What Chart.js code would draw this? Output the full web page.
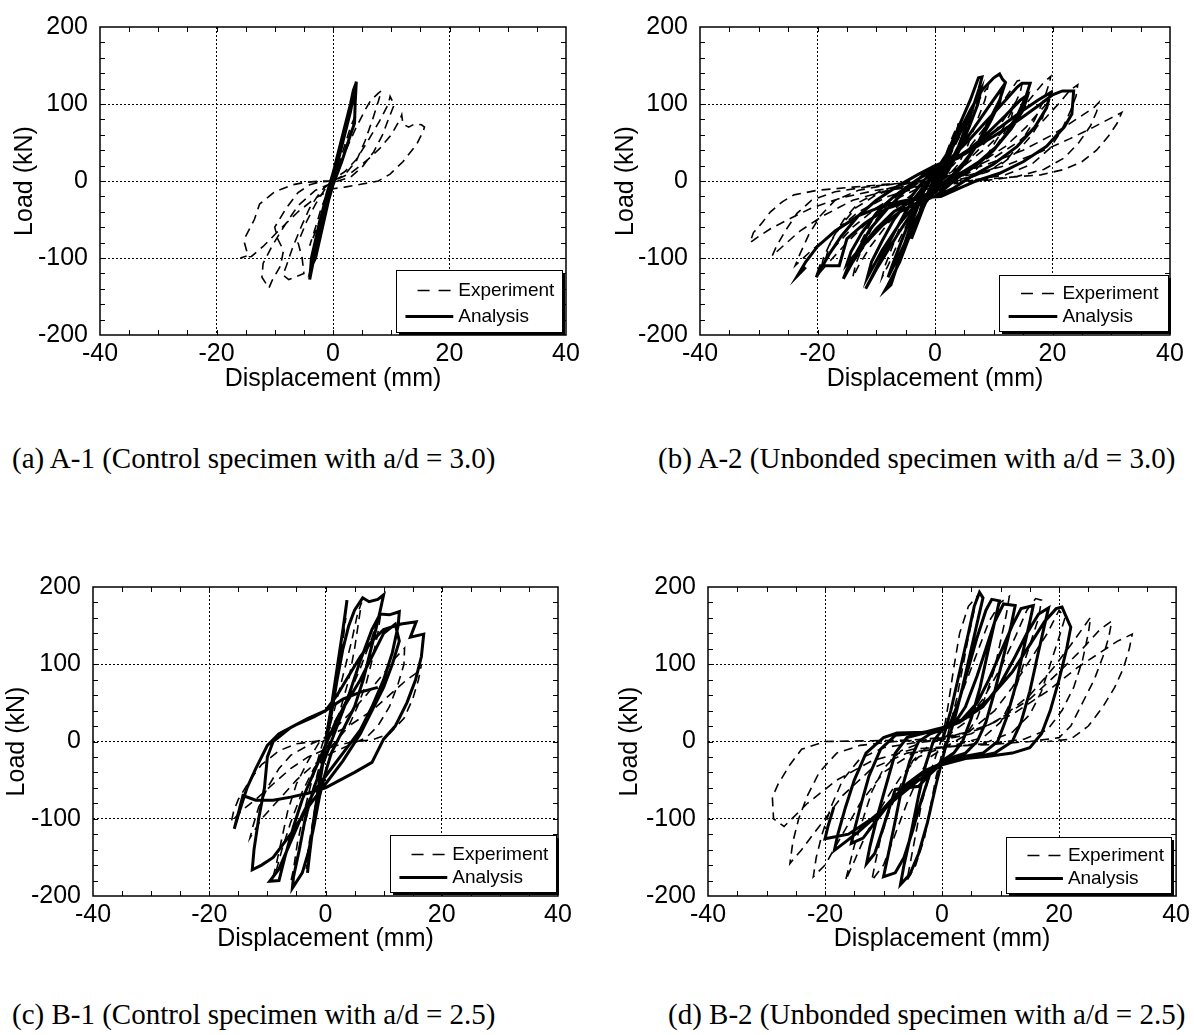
<!DOCTYPE html>
<html>
<head>
<meta charset="utf-8">
<script src="https://cdn.jsdelivr.net/npm/chart.js@4.4.1/dist/chart.umd.min.js"></script>
<style>
  body { margin: 0; background: #fff; width: 1194px; height: 1035px; position: relative; overflow: hidden; }
  .panel { position: absolute; }
  .cap { position: absolute; font-family: "Liberation Serif", "Times New Roman", serif; font-size: 29px; color: #000; white-space: nowrap; line-height: 32px; }
</style>
</head>
<body>
<div class="panel" style="left:0;top:0;"><canvas id="cA" width="600" height="400"></canvas></div>
<div class="panel" style="left:600px;top:0;"><canvas id="cB" width="594" height="400"></canvas></div>
<div class="panel" style="left:0;top:560px;"><canvas id="cC" width="600" height="400"></canvas></div>
<div class="panel" style="left:600px;top:560px;"><canvas id="cD" width="594" height="400"></canvas></div>

<div class="cap" style="left:12px;top:442px;">(a) A-1 (Control specimen with a/d = 3.0)</div>
<div class="cap" style="left:658px;top:442px;">(b) A-2 (Unbonded specimen with a/d = 3.0)</div>
<div class="cap" style="left:12px;top:998px;">(c) B-1 (Control specimen with a/d = 2.5)</div>
<div class="cap" style="left:668px;top:998px;">(d) B-2 (Unbonded specimen with a/d = 2.5)</div>

<script>
// ── 축 눈금
const xTicks = [-40, -20, 0, 20, 40];
const yTicks = [-200, -100, 0, 100, 200];
const xMinor = [-35, -30, -25, -20, -15, -10, -5, 0, 5, 10, 15, 20, 25, 30, 35];
const yMinor = [-180, -160, -140, -120, -100, -80, -60, -40, -20, 0, 20, 40, 60, 80, 100, 120, 140, 160, 180];
const seriesNames = ['Experiment', 'Analysis'];
const xTitle = 'Displacement (mm)';
const yTitle = 'Load (kN)';

// ── A-1 (변위 mm, 하중 kN)
const a1Exp = [
  [0,0],[1,22],[2,46],[3,70],[4,88],[3.5,74],[2,38],[0.5,6],[-1,-20],[-2,-44],[-3,-66],[-4,-84],[-3.4,-70],[-2,-35],[-0.5,-6],
  [1,18],[2.5,45],[4,70],[5.5,92],[6.5,105],[7.8,114],[8.3,117],[7.8,104],[6.8,80],[5.5,52],[4,26],[2,8],[0,0],
  [-2,-12],[-4,-35],[-5.5,-60],[-7,-88],[-8,-110],[-8.6,-122],[-7.6,-128],[-6.2,-124],[-5,-120],[-5.3,-100],[-6,-80],[-4.5,-52],[-3,-30],[-1.5,-12],[0,2],
  [2,12],[4,28],[6,52],[8,78],[9.5,100],[9.8,110],[10.5,99],[9.5,80],[8.5,60],[7,38],[5,18],[3,5],[0,-2],
  [-3,-12],[-6,-32],[-8.5,-60],[-10.5,-85],[-12,-107],[-12.2,-125],[-11,-139],[-10.5,-130],[-9,-110],[-8.5,-90],[-9.5,-75],[-10,-60],[-8,-35],[-6,-15],[-4,-5],[-2,-1],[0,0],
  [3,10],[6,28],[8,42],[10,60],[11.5,80],[11.8,86],[12,74],[13,70],[14,74],[15.2,73],[15.7,70],[15.5,65],[14.4,48],[12,25],[9.8,9],[7.8,0],[5,-4],[2,-8],[0,-10],
  [-3,-22],[-6,-40],[-9,-62],[-12,-85],[-14,-98],[-15.9,-100],[-14.6,-97],[-15.2,-80],[-15,-72],[-13.5,-50],[-12.6,-30],[-10,-14],[-7,-5],[-5,-2],[-2,0],[0,0]
];
const a1Ana = [
  [0,0],[1,30],[2,62],[3,95],[4,129],[3.8,100],[3.7,75],[3,60],[1.5,25],[0,-5],[-1.5,-45],[-3,-90],[-4,-128],[-3.8,-110],[-3.7,-100],
  [-2.5,-60],[-1,-15],[0,10],[1.5,55],[3,100],[3.5,118],[4,128],[3,90],[1.5,45],[0,0],[-1.5,-50],[-3,-100],[-3.7,-111],[-3,-85],[-1,-25],[0,5]
];

// ── A-2
const a2Exp = [
  [0,0],[1,18],[2,38],[3,58],[4,75],[3.5,60],[2,28],[0.5,2],[-1,-15],[-2,-32],[-3,-52],[-4,-70],[-3.5,-55],[-2,-25],[0,0],
  [2,25],[4,55],[6,85],[8,112],[9,122],[8.5,105],[7,75],[5.5,45],[4,22],[2,5],[0,-5],[-2,-20],[-4,-45],[-6,-75],[-8,-110],[-9,-125],[-8.5,-110],[-7,-80],[-5.5,-50],[-4,-25],[-2,-8],[0,5],
  [3,20],[6,45],[9,75],[12,108],[14,130],[15,132],[14.5,115],[13,90],[11,60],[9,35],[6.5,15],[4,3],[1,-5],[-2,-12],[-5,-30],[-8,-55],[-11,-85],[-13,-110],[-14,-125],[-13.5,-108],[-12,-80],[-10,-50],[-8,-28],[-5,-12],[-2,-3],
  [2,8],[5,22],[8,45],[11,72],[13.5,100],[13,82],[11.5,58],[9.5,35],[7,15],[4,4],[0,-4],[-3,-12],[-6,-30],[-9,-55],[-12,-85],[-13.5,-100],[-12.8,-82],[-11,-55],[-9,-32],[-6,-14],[-3,-4],
  [1,5],[5,20],[9,45],[13,75],[16,105],[18.5,128],[19.7,136],[19.5,128],[18.5,105],[17,80],[15,55],[12.5,30],[9,12],[5,2],[1,-4],[-3,-10],[-7,-25],[-11,-50],[-15,-80],[-18,-105],[-19.5,-118],[-19,-100],[-17.5,-75],[-15.5,-50],[-13,-28],[-9,-12],[-5,-4],[0,2],
  [4,10],[8,25],[12,45],[15.5,70],[18,92],[19,100],[18.3,82],[16.5,60],[14,38],[11,20],[7,7],[3,0],[-2,-6],[-6,-16],[-10,-35],[-14,-60],[-17,-85],[-18.5,-98],[-17.8,-80],[-16,-58],[-13.5,-35],[-10,-18],[-6,-8],[-2,-2],
  [5,12],[10,30],[14,50],[18,75],[21,100],[23,118],[24.3,125],[24,110],[23,90],[21.5,65],[19.5,42],[16.5,22],[12,8],[7,2],[2,-3],[-3,-8],[-8,-20],[-13,-40],[-17,-65],[-21,-90],[-23.8,-110],[-23,-95],[-21.5,-70],[-19.5,-45],[-17,-25],[-13,-12],[-8,-5],[-3,0],
  [3,8],[9,22],[15,40],[20,60],[24,80],[27,95],[27.9,102],[27.5,90],[26.5,72],[24.5,50],[22,30],[18.5,15],[14,6],[9,1],[4,-3],[-2,-6],[-8,-12],[-14,-25],[-19,-45],[-23,-65],[-25.5,-82],[-27.7,-97],[-27,-85],[-25.5,-65],[-23.5,-42],[-21,-25],[-17,-14],[-12,-8],[-6,-3],[0,0],
  [6,8],[12,20],[18,38],[23,55],[27,70],[30,82],[31.8,89],[31,75],[29.5,58],[27.5,40],[25,25],[22,15],[18,8],[13,5],[8,2],[3,-2],[-3,-6],[-10,-12],[-16,-22],[-21,-35],[-25,-50],[-28,-62],[-30,-72],[-31.5,-80],[-30.9,-67],[-29.5,-55],[-28,-40],[-26,-27],[-24,-18],[-20,-12],[-14,-8],[-8,-4],[0,0]
];
const a2Ana = [
  [0,0],[1,15],[2,32],[3,50],[4,70],[3.5,55],[2,22],[0,-5],[-1,-18],[-2,-35],[-3,-55],[-4,-75],[-3.5,-60],[-2,-28],[0,5],
  [2,35],[4,70],[6,105],[7.4,134],[8,135],[7.5,120],[6,85],[4,45],[2,15],[0,-10],[-2,-30],[-4,-65],[-6,-105],[-8,-135],[-8.5,-142],[-7.5,-135],[-6,-100],[-4,-55],[-2,-15],[0,12],
  [2,30],[4,58],[6,90],[7.8,118],[7.3,100],[5.8,70],[4,38],[2,10],[0,-12],[-2,-32],[-4,-62],[-6,-95],[-8,-125],[-7.3,-110],[-5.8,-80],[-4,-45],[-2,-10],[0,12],
  [2,35],[4,62],[6,92],[8,118],[10,134],[11,139],[11.5,132],[12,128],[11,105],[9,75],[7,45],[5,22],[3,5],[0,-15],[-2,-25],[-4,-42],[-6,-65],[-8,-90],[-10,-115],[-11.8,-140],[-11,-128],[-9,-98],[-7,-68],[-5,-40],[-3,-18],[-1,2],[0,15],
  [3,30],[6,62],[9,95],[11.5,122],[11,102],[9.5,78],[7.5,50],[5,25],[3,8],[0,-12],[-3,-28],[-6,-55],[-9,-90],[-11.5,-125],[-10.8,-105],[-9,-78],[-7,-50],[-4,-20],[-2,0],[0,15],
  [3,32],[6,55],[9,80],[12,105],[14,122],[14.8,127],[16.2,127],[15.5,110],[14,85],[12,60],[10,40],[7,20],[4,5],[2,-8],[0,-20],[-3,-28],[-6,-40],[-9,-58],[-12,-82],[-14,-105],[-15.6,-127],[-15,-115],[-13,-88],[-11,-62],[-8,-35],[-5,-12],[-2,8],[0,18],
  [4,30],[8,55],[12,85],[14.5,105],[15.8,112],[15,92],[13,68],[10.5,45],[7.5,25],[4,8],[1,-10],[-3,-22],[-7,-40],[-10,-62],[-13,-90],[-15,-108],[-14.3,-92],[-12.5,-68],[-10,-42],[-7,-20],[-3,2],[0,15],
  [4,32],[8,52],[12,75],[15,92],[17.5,105],[19.7,115],[19,95],[17,70],[14,45],[10,22],[6,5],[3,-10],[0,-20],[-4,-25],[-8,-35],[-12,-55],[-15,-75],[-16.3,-110],[-19.5,-110],[-20.2,-125],[-19.5,-115],[-18,-95],[-16,-72],[-13,-45],[-10,-25],[-6,-5],[-3,8],[0,20],
  [5,35],[10,58],[14,78],[18,100],[20,112],[21.7,117],[23.6,117],[23.3,87],[22,70],[19,45],[15,25],[11,10],[7,0],[4,-10],[1,-20],[-3,-22],[-8,-30],[-13,-45],[-17,-65],[-20,-85],[-22,-105],[-23.4,-123],[-22,-112]
];

// ── B-1
const b1Exp = [
  [0,0],[1,40],[2,85],[3,130],[3.5,160],[3,140],[2,95],[1,45],[0,0],[-1,-45],[-2,-95],[-3,-140],[-3.3,-165],[-2.8,-140],[-1.8,-90],[-0.8,-40],[0,0],
  [1.5,40],[3,85],[4.5,130],[5.5,165],[6.2,180],[5.8,160],[5,120],[4,80],[2.5,40],[1,5],[-1,-30],[-2.5,-75],[-4,-120],[-5,-155],[-6,-183],[-5.5,-165],[-4.8,-130],[-3.8,-95],[-2.5,-55],[-1,-15],[0,10],
  [2,30],[4,60],[6,95],[8,135],[9,158],[9.5,165],[9,140],[8,105],[7,75],[5.5,45],[4,20],[2,2],[0,-15],[-2,-35],[-4,-65],[-6,-105],[-7.5,-140],[-8.5,-168],[-9,-175],[-8.5,-160],[-7.5,-125],[-6.5,-90],[-5,-55],[-3,-25],[-1,0],
  [1,12],[4,35],[7,60],[10,88],[12,108],[13.6,121],[13.5,100],[12.5,75],[11,45],[9,20],[7,5],[4,-5],[1,-15],[-2,-30],[-5,-50],[-8,-75],[-11,-100],[-13,-125],[-12.5,-110],[-11.5,-85],[-10,-60],[-8,-35],[-6,-18],[-3,-5],[0,5],
  [4,20],[8,40],[11,60],[14,80],[16.3,92],[16.5,100],[16,80],[15,55],[13.5,30],[11,10],[8,2],[5,0],[2,-5],[0,-10],[-3,-20],[-6,-35],[-9,-55],[-12,-75],[-14.5,-90],[-16.2,-104],[-15.8,-90],[-15,-75],[-13,-50],[-11,-30],[-8,-12],[-5,-3],[-2,0],[0,2]
];
const b1Ana = [
  [0,0],[1,45],[2,95],[3,145],[3.7,183],[3.3,160],[2.5,120],[1.5,70],[0.5,20],[-0.5,-30],[-1.5,-80],[-2.5,-130],[-3.1,-170],[-2.8,-150],[-2,-100],[-1,-50],[0,-5],
  [1,35],[2,80],[3,120],[4,150],[5,170],[6.4,186],[7.5,181],[9,184],[10,190],[9.4,169],[8.5,140],[7.5,110],[6.5,80],[5,45],[3,15],[1,-15],[0,-40],[-1,-70],[-2,-110],[-3,-145],[-4,-170],[-5.7,-190],[-5.5,-175],[-4.5,-140],[-3.5,-100],[-2,-60],[0,-20],
  [2,20],[4,60],[6,105],[8,145],[9.4,165],[11,164],[12.7,168],[12.5,150],[11.5,115],[10,80],[8,45],[6,15],[3,-15],[0,-45],[-2,-65],[-4,-95],[-6,-130],[-8,-165],[-9.6,-181],[-8,-180],[-7,-150],[-5.5,-110],[-4,-75],[-2,-40],[0,-5],
  [2,30],[4,55],[6,80],[8,110],[10,140],[12,152],[12.7,130],[11.5,100],[10,70],[8,40],[6,10],[3,-25],[0,-55],[-3,-85],[-6,-120],[-9,-150],[-11,-160],[-12.6,-166],[-12.3,-140],[-11.5,-100],[-10.5,-60],[-10,-20],[-9,0],[-6,18],[-3,30],[0,40],
  [2,60],[4,85],[6,110],[8,130],[10,145],[13,152],[15.6,155],[14.6,135],[16.9,139],[16.5,110],[15.5,80],[14,50],[12,20],[10,3],[8,-27],[5,-40],[2,-52],[0,-60],[-3,-67],[-6,-72],[-9,-76],[-12,-76],[-14.2,-70],[-15.7,-113],
  [-15,-95],[-13.5,-60],[-12,-35],[-10,-5],[-8,10],[-5,22],[-2,32],[0,40],[3,55],[6,64],[9,70]
];

// ── B-2
const b2Exp = [
  [0,0],[1,45],[2,95],[3,140],[4.5,175],[6,188],[5.5,170],[4.5,135],[3.5,95],[2.5,55],[1,10],[0,-15],[-1,-45],[-2,-85],[-3,-125],[-4.5,-160],[-6,-180],[-5.5,-160],[-4.5,-120],[-3.5,-80],[-2,-40],[0,5],
  [2,35],[4,75],[6,115],[8,155],[10,180],[11.5,188],[11,165],[10,130],[9,95],[7.5,60],[6,30],[4,8],[1,-5],[-2,-20],[-4,-45],[-6,-80],[-8,-120],[-10,-160],[-12,-180],[-11.5,-160],[-10.5,-125],[-9,-90],[-7,-55],[-5,-25],[-2,-3],
  [1,8],[4,25],[7,55],[10,95],[12.5,135],[14.5,170],[16,185],[17,183],[16.5,160],[15,125],[13.5,90],[12,55],[10,25],[7,5],[3,-3],[0,-8],[-4,-20],[-7,-45],[-10,-80],[-13,-120],[-15,-155],[-16.5,-180],[-16,-165],[-15,-135],[-13.5,-100],[-12,-65],[-10,-35],[-7,-12],[-3,0],
  [1,5],[5,15],[9,40],[12,70],[15,105],[18,140],[20,170],[21,160],[20,135],[18.5,100],[17,65],[15,35],[12,12],[8,0],[4,-5],[0,-8],[-5,-15],[-10,-40],[-14,-80],[-17,-120],[-20,-160],[-22,-175],[-21.5,-150],[-20.5,-120],[-19,-85],[-17,-50],[-14,-22],[-10,-8],[-5,-2],[0,2],
  [5,10],[10,30],[15,60],[19,95],[22,125],[25.4,161],[25,140],[24,105],[22.5,70],[20.5,40],[18,15],[14,3],[9,-2],[4,-5],[0,-8],[-6,-15],[-12,-35],[-17,-70],[-21,-110],[-24,-140],[-26,-158],[-25.5,-130],[-24.5,-100],[-23,-70],[-21,-40],[-18,-15],[-14,-5],[-8,0],[-3,2],
  [3,8],[9,25],[15,55],[20,90],[24,120],[27,145],[29,156],[28.5,135],[27.5,110],[26,80],[24,50],[22,20],[20,5],[15,0],[8,-4],[2,-6],[-5,-10],[-12,-25],[-18,-50],[-23,-80],[-27,-110],[-28.8,-100],[-29,-72],[-28,-55],[-26,-30],[-24,-10],[-20,0],[-12,1],[-5,2],[0,5],
  [6,15],[12,35],[18,65],[23,95],[27,115],[30,130],[32.5,139],[32,120],[31,95],[29.5,70],[27.5,45],[25,20],[22,3],[18,0]
];
const b2Ana = [
  [0,0],[1.5,40],[3,90],[4.5,140],[5.5,175],[6.4,193],[7,186],[6.2,160],[5,120],[3.5,70],[2,25],[0.5,-10],[0,-25],
  [-1,-55],[-2.5,-105],[-4,-145],[-5.5,-172],[-7.1,-185],[-6.5,-160],[-5.2,-115],[-4,-70],[-2.8,-30],[-1.5,0],[0,15],
  [1.5,25],[3,55],[4.5,95],[6,135],[7.5,170],[8.5,184],[9.8,182],[9,155],[7.8,115],[6.5,70],[5,30],[3.5,0],[2,-15],[0,-25],
  [-2,-40],[-3.5,-75],[-5,-115],[-6.5,-150],[-8,-170],[-10,-175],[-9.3,-150],[-8.2,-110],[-7,-65],[-5.5,-25],[-4,0],[-2,10],[0,15],
  [2,22],[4,45],[6,85],[7.5,120],[9,155],[10.5,178],[12.5,176],[11.8,150],[10.5,110],[9,65],[7.5,25],[6,0],[4,-15],[2,-20],[0,-28],
  [-2,-42],[-4,-58],[-8,-62],[-10,-110],[-11.5,-145],[-12.9,-158],[-12.3,-135],[-11,-95],[-9.5,-55],[-8,-15],[-6,5],[-3,11],[0,16],
  [3,25],[6,50],[8,80],[10,115],[12,150],[13.5,172],[15.6,176],[15,155],[13.8,115],[12.5,70],[11,30],[9.5,0],[7,-15],[4,-19],[0,-28],
  [-3,-38],[-6,-55],[-9,-80],[-11.5,-105],[-13.5,-125],[-15.5,-132],[-15,-115],[-13.8,-80],[-12.5,-45],[-10.5,-10],[-8,8],[-4,11],[0,16],
  [3,25],[7,45],[10,75],[12.5,110],[14.5,140],[16.5,165],[18.2,173],[17.5,150],[16.3,110],[15,65],[13.5,25],[12,0],[9,-15],[6.5,-19],[3,-21],[0,-30],
  [-4,-45],[-8,-70],[-11,-95],[-14,-115],[-16.5,-130],[-18.4,-141],[-17.8,-120],[-16.5,-85],[-15,-50],[-13,-15],[-10,5],[-7.7,11],[-3,12],[0,18],
  [4,30],[8,55],[12,90],[15,125],[17.5,155],[19.5,172],[20.5,174],[21.3,160],[22,148],[21.3,120],[20,80],[18.5,40],[17,10],[15,-8],[12,-15],[8,-19],[4,-22],[0,-30],
  [-4,-50],[-8,-75],[-12,-100],[-16,-120],[-20,-126],[-19.5,-110],[-18.5,-85]
];

// ── 틀, 보조 눈금, 범례
const frameLegend = {
  id: 'frameLegend',
  afterDatasetsDraw(chart, args, opts) {
    const { ctx, chartArea: a, scales: { x, y } } = chart;
    ctx.save();
    ctx.setLineDash([]);
    ctx.strokeStyle = '#000';
    ctx.lineWidth = 1;
    ctx.beginPath();
    xMinor.forEach(v => {
      const px = Math.round(x.getPixelForValue(v)) + 0.5;
      ctx.moveTo(px, a.top); ctx.lineTo(px, a.top + 5);
      ctx.moveTo(px, a.bottom); ctx.lineTo(px, a.bottom - 5);
    });
    yMinor.forEach(v => {
      const py = Math.round(y.getPixelForValue(v)) + 0.5;
      ctx.moveTo(a.left, py); ctx.lineTo(a.left + 5, py);
      ctx.moveTo(a.right, py); ctx.lineTo(a.right - 5, py);
    });
    ctx.stroke();
    ctx.lineWidth = 1.5;
    ctx.strokeRect(a.left, a.top, a.right - a.left, a.bottom - a.top);

    // 범례 상자
    const w = a.right - a.left, h = a.bottom - a.top;
    const bx = Math.round(a.left + opts.box[0] * w), by = Math.round(a.top + opts.box[1] * h);
    const bw = Math.round((opts.box[2] - opts.box[0]) * w), bh = Math.round((opts.box[3] - opts.box[1]) * h);
    ctx.fillStyle = '#000';
    ctx.fillRect(bx + 3, by + 3, bw, bh);
    ctx.fillStyle = '#fff';
    ctx.fillRect(bx, by, bw, bh);
    ctx.lineWidth = 1;
    ctx.strokeRect(bx + 0.5, by + 0.5, bw, bh);

    const ds = chart.data.datasets;
    const rows = [0.33, 0.74];
    ctx.font = "19px 'Liberation Sans', Arial, sans-serif";
    ctx.textBaseline = 'middle';
    ctx.textAlign = 'left';
    ds.forEach((d, i) => {
      const ry = Math.round(by + rows[i] * bh) + 0.5;
      ctx.beginPath();
      ctx.lineWidth = d.borderWidth;
      ctx.setLineDash(i === 0 ? [12, 9] : []);
      ctx.moveTo(bx + (i === 0 ? 0.13 : 0.057) * bw, ry);
      ctx.lineTo(bx + 0.345 * bw, ry);
      ctx.stroke();
      ctx.setLineDash([]);
      ctx.fillStyle = '#000';
      ctx.fillText(d.label, bx + 0.375 * bw, ry);
    });
    ctx.restore();
  }
};

const axisFont = { family: "'Liberation Sans', Arial, sans-serif", size: 25 };

function makeChart(id, exp, ana, L) {
  const ctx = document.getElementById(id).getContext('2d');
  return new Chart(ctx, {
    type: 'scatter',
    data: {
      datasets: [
        {
          label: seriesNames[0],
          data: exp.map(p => ({ x: p[0], y: p[1] })),
          showLine: true,
          borderColor: '#000',
          borderWidth: 1.6,
          borderDash: [9, 6],
          pointRadius: 0,
          tension: 0,
          order: 1,
        },
        {
          label: seriesNames[1],
          data: ana.map(p => ({ x: p[0], y: p[1] })),
          showLine: true,
          borderColor: '#000',
          borderWidth: 3,
          pointRadius: 0,
          tension: 0,
          order: 0,
        }
      ]
    },
    options: {
      responsive: false,
      animation: false,
      devicePixelRatio: 1,
      layout: { padding: { left: 0, top: L.padTop, right: L.padRight, bottom: 0 } },
      plugins: {
        legend: { display: false },
        tooltip: { enabled: false },
        frameLegend: { box: L.box },
      },
      scales: {
        x: {
          type: 'linear',
          min: -40, max: 40,
          afterBuildTicks: s => { s.ticks = xTicks.map(v => ({ value: v })); },
          afterFit: s => { s.height = L.xH; },
          grid: {
            color: c => (c.tick && Math.abs(c.tick.value) === 40) ? 'rgba(0,0,0,0)' : '#000',
            lineWidth: 1,
            drawTicks: false,
          },
          border: { display: false, dash: [2, 2] },
          ticks: { color: '#000', font: axisFont, padding: 4, maxRotation: 0, callback: v => String(v) },
          title: { display: true, text: xTitle, color: '#000', font: axisFont, padding: { top: 0, bottom: 6 } },
        },
        y: {
          type: 'linear',
          min: -200, max: 200,
          afterBuildTicks: s => { s.ticks = yTicks.map(v => ({ value: v })); },
          afterFit: s => { s.width = L.yW; },
          grid: {
            color: c => (c.tick && Math.abs(c.tick.value) === 200) ? 'rgba(0,0,0,0)' : '#000',
            lineWidth: 1,
            drawTicks: false,
          },
          border: { display: false, dash: [2, 2] },
          ticks: { color: '#000', font: axisFont, padding: 12, callback: v => String(v) },
          title: { display: true, text: yTitle, color: '#000', font: axisFont, padding: { top: L.yTitlePad, bottom: 0 } },
        }
      }
    },
    plugins: [frameLegend]
  });
}

makeChart('cA', a1Exp, a1Ana, { yW: 100, padTop: 22, padRight: 34, xH: 65, yTitlePad: 10, box: [0.636, 0.79, 0.992, 0.99] });
makeChart('cB', a2Exp, a2Ana, { yW: 100, padTop: 22, padRight: 24, xH: 65, yTitlePad: 11, box: [0.637, 0.805, 0.996, 0.988] });
makeChart('cC', b1Exp, b1Ana, { yW: 93, padTop: 22, padRight: 42, xH: 64, yTitlePad: 2, box: [0.638, 0.802, 0.995, 0.985] });
makeChart('cD', b2Exp, b2Ana, { yW: 108, padTop: 22, padRight: 16, xH: 64, yTitlePad: 15, box: [0.637, 0.808, 0.99, 0.989] });
</script>
</body>
</html>
